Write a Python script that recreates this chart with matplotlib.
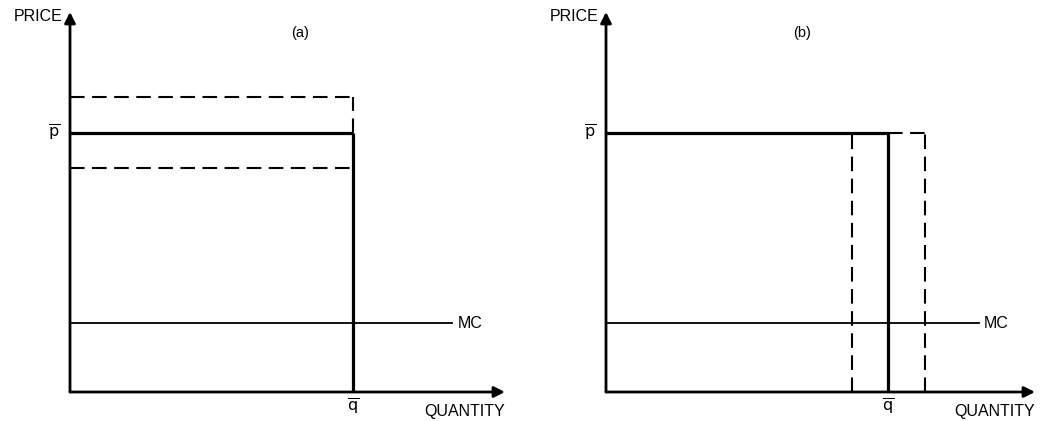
import matplotlib
matplotlib.use("Agg")
import matplotlib.pyplot as plt

plt.rcParams['font.family'] = ['Liberation Sans', 'DejaVu Sans']

# Model values (same units in both panels)
q_bar = 10.0          # fixed quantity
p_bar = 10.0          # fixed price
mc_level = 2.66       # constant marginal cost
price_band_a = [8.65, 11.4]   # panel (a): price uncertainty around p-bar
qty_band_b = [8.7, 11.3]      # panel (b): quantity uncertainty around q-bar
mc_end = [13.5, 13.2]         # where the MC line stops in each panel

panel_titles = ['(a)', '(b)']
y_label = 'PRICE'
x_label = 'QUANTITY'
mc_label = 'MC'
p_tick = r'$\overline{\mathrm{p}}$'
q_tick = r'$\overline{\mathrm{q}}$'

W, H = 1041, 421
fig = plt.figure(figsize=(W / 100, H / 100), dpi=100)
fig.patch.set_facecolor('white')

xmax_list = [15.37, 15.2]
ymax = 14.67
origins_px = [70, 606]
widths_px = [435, 429]
bottom_px = 29
height_px = 380

DASH = (0, (7.0, 3.6))
FS = 11.5


def draw_axes_frame(ax, xmax):
    ax.set_xlim(0, xmax)
    ax.set_ylim(0, ymax)
    ax.axis('off')
    arrow = dict(arrowstyle='-|>', lw=2.0, color='black',
                 mutation_scale=16, shrinkA=0, shrinkB=0)
    ax.annotate('', xy=(xmax, 0), xytext=(0, 0), arrowprops=arrow,
                annotation_clip=False)
    ax.annotate('', xy=(0, ymax), xytext=(0, 0), arrowprops=arrow,
                annotation_clip=False)


axes = []
for i in range(2):
    ax = fig.add_axes([origins_px[i] / W, bottom_px / H,
                       widths_px[i] / W, height_px / H])
    draw_axes_frame(ax, xmax_list[i])
    axes.append(ax)

# ---- panel (a): price uncertain, quantity fixed ----
ax = axes[0]
ax.plot([0, q_bar], [p_bar, p_bar], color='black', lw=2.3, solid_capstyle='butt')
ax.plot([q_bar, q_bar], [0, p_bar], color='black', lw=2.3, solid_capstyle='butt')
ax.plot([0, q_bar], [price_band_a[1]] * 2, color='black', lw=1.5, linestyle=DASH)
ax.plot([q_bar, q_bar], [p_bar, price_band_a[1]], color='black', lw=1.5, linestyle=DASH)
ax.plot([0, q_bar], [price_band_a[0]] * 2, color='black', lw=1.5, linestyle=DASH)
ax.plot([0, mc_end[0]], [mc_level] * 2, color='black', lw=1.3)

# ---- panel (b): quantity uncertain, price fixed ----
ax = axes[1]
ax.plot([0, q_bar], [p_bar, p_bar], color='black', lw=2.3, solid_capstyle='butt')
ax.plot([q_bar, q_bar], [0, p_bar], color='black', lw=2.3, solid_capstyle='butt')
ax.plot([qty_band_b[0]] * 2, [0, p_bar], color='black', lw=1.5, linestyle=DASH)
ax.plot([qty_band_b[1]] * 2, [0, p_bar], color='black', lw=1.5, linestyle=DASH)
ax.plot([q_bar, qty_band_b[1]], [p_bar, p_bar], color='black', lw=1.5, linestyle=DASH)
ax.plot([0, mc_end[1]], [mc_level] * 2, color='black', lw=1.3)

# ---- labels common to both panels ----
for i, ax in enumerate(axes):
    xmax = xmax_list[i]
    ax.text(-0.25, 14.48, y_label, ha='right', va='center', fontsize=FS,
            clip_on=False)
    ax.text(xmax, -0.45, x_label, ha='right', va='top', fontsize=FS,
            clip_on=False)
    ax.text(q_bar, -0.2, q_tick, ha='center', va='top', fontsize=FS,
            clip_on=False)
    ax.text(-0.35, p_bar, p_tick, ha='right', va='center', fontsize=FS,
            clip_on=False)
    ax.text(mc_end[i] + 0.2, mc_level, mc_label, ha='left', va='center',
            fontsize=FS, clip_on=False)
    title_x = 8.13 if i == 0 else 6.96
    ax.text(title_x, 13.86, panel_titles[i], ha='center', va='center',
            fontsize=FS - 1, clip_on=False)

fig.savefig('out.png', dpi=100, facecolor='white')
